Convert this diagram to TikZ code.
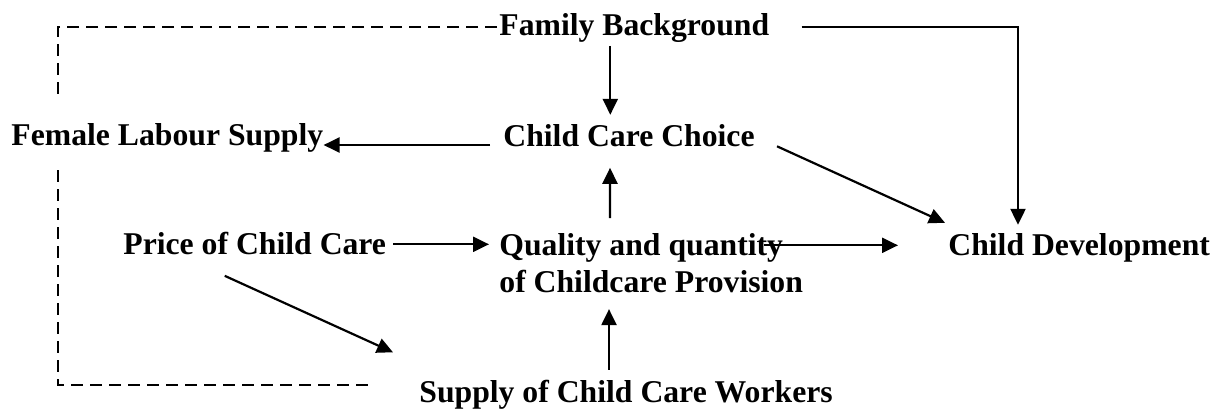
\documentclass[tikz,border=0pt]{standalone}
\usepackage{fontspec}
\setmainfont{Liberation Serif}
\usetikzlibrary{arrows.meta}

\begin{document}
\begin{tikzpicture}[x=0.5pt,y=-0.5pt,every node/.style = {inner sep=0pt, anchor=base west, font=\fontsize{15.85}{18.5}\selectfont\bfseries, text height=0.69em, text depth=0.22em},
link/.style = {-{Triangle[length=8pt,width=7.5pt]}, line width=1.1pt},
loopline/.style = {line width=0.9pt, dash pattern=on 6pt off 3.5pt}]
\useasboundingbox (0,0) rectangle (1221,409);
\node(fb) at (499,35) {Family Background};
\node(ccc) at (503,146) {Child Care Choice};
\node(fls) at (11,145) {Female Labour Supply};
\node(price) at (123,254) {Price of Child Care};
\node(qual)[anchor=north west, align=left, text height=, text depth=] at (499,233) {Quality and quantity\\of Childcare Provision};
\node(cd) at (948,255) {Child Development};
\node(sup) at (419,402) {Supply of Child Care Workers};
\coordinate (dtop) at (58,98);
\coordinate (dbot) at (58,170);
\coordinate (dend) at (370,385);
\draw[loopline] ([shift={(-2,-3)}]fb.west) -| (dtop);
\draw[loopline] (dbot) |- (dend);
\draw[link] ([shift={(32,-3)}]fb.east) -| ([shift={(70,-16)}]cd.north west);
\draw[link] ([shift={(-24,6)}]fb.south) -- ([shift={(-24,-17)}]fb.south |- ccc.north);
\draw[link] ([shift={(-13,-1)}]ccc.base west) -- (fls.base east);
\draw[link] ([shift={(22,5)}]ccc.east) -- ([shift={(-3,-18)}]cd.north west);
\draw[link] ([shift={(111,-15)}]qual.north west) -- ([shift={(-19,17)}]ccc.south);
\draw[link] ([shift={(7,-5)}]price.east) -- ([shift={(-10,-5)}]qual.west |- price.east);
\draw[link] ([shift={(265,-5)}]qual.north west |- cd.west) -- ([shift={(-50,-5)}]cd.west);
\draw[link] ([shift={(-30,17)}]price.south) -- ([shift={(-26,-45)}]sup.west);
\draw[link] ([shift={(110,-18)}]qual.south west |- sup.north) -- ([shift={(110,16)}]qual.south west);
\end{tikzpicture}
\end{document}
